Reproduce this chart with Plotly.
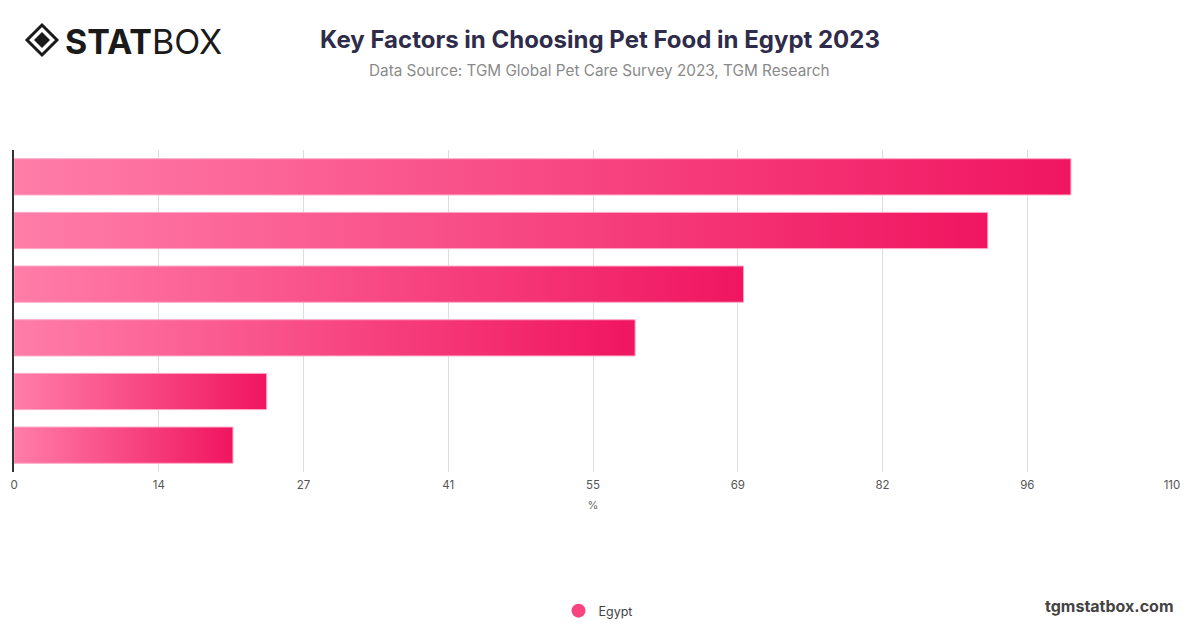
# Packages:
import plotly.graph_objects as go

# Data:
factors = ["Factor 1", "Factor 2", "Factor 3", "Factor 4", "Factor 5", "Factor 6"]
shares = [100.4, 92.5, 69.3, 59.0, 24.0, 20.8]
series_name = "Egypt"
tick_vals = [0, 13.75, 27.5, 41.25, 55, 68.75, 82.5, 96.25, 110]
tick_text = ["0", "14", "27", "41", "55", "69", "82", "96", "110"]

# Layout helpers (page pixels -> paper); the page body adds an 8px offset:
OFF = 8
W, H = 1200 - OFF, 628 - OFF
plot_l, plot_r, plot_t, plot_b = 14, 1172, 150, 472
L, T = plot_l - OFF, plot_t - OFF
R, B = W - (plot_r - OFF), H - (plot_b - OFF)
pw, ph = plot_r - plot_l, plot_b - plot_t
def px(x):
    return (x - plot_l) / pw
def py(y):
    return (plot_b - y) / ph

bar_w = 0.675
grad = [[0, "#FF7DA8"], [1, "#F01560"]]

fig = go.Figure()

# Bars as filled rectangles so each one can carry its own horizontal gradient:
for i, (name, v) in enumerate(zip(factors, shares)):
    y0, y1 = i - bar_w / 2, i + bar_w / 2
    fig.add_trace(go.Scatter(
        x = [0, v, v, 0, 0],
        y = [y0, y0, y1, y1, y0],
        mode = "lines",
        fill = "toself",
        fillgradient = dict(type = "horizontal", colorscale = grad),
        line = dict(color = "#FFA8C6", width = 1),
        hoverinfo = "skip",
        name = name,
        showlegend = False
    ))

# Legend entry:
fig.add_trace(go.Scatter(
    x = [None], y = [None],
    mode = "markers",
    marker = dict(size = 14, color = "#F8447F"),
    name = series_name
))

fig.update_layout(
    width = W, height = H,
    margin = dict(l = L, r = R, t = T, b = B, autoexpand = False),
    plot_bgcolor = "white",
    paper_bgcolor = "white",
    font = dict(family = "Inter", color = "#555555"),
    title = dict(
        text = "<b>Key Factors in Choosing Pet Food in Egypt 2023</b>",
        x = (600 - OFF) / W, xanchor = "center", xref = "container",
        y = 1 - (40 - OFF) / H, yanchor = "middle", yref = "container",
        font = dict(size = 24, color = "#2E2C4A", family = "Inter")
    ),
    xaxis = dict(
        range = [0, 110],
        tickvals = tick_vals,
        ticktext = tick_text,
        showgrid = True,
        gridcolor = "#DDDDDD",
        gridwidth = 1,
        zeroline = False,
        showline = False,
        ticks = "",
        ticklabelstandoff = 4,
        automargin = False,
        tickfont = dict(size = 11.5, color = "#555555"),
        title = dict(text = "%", font = dict(size = 11, color = "#666666"), standoff = 10)
    ),
    yaxis = dict(
        range = [len(factors) - 0.5, -0.5],
        showticklabels = False,
        showgrid = False,
        zeroline = False,
        showline = True,
        linecolor = "#333333",
        linewidth = 1.5,
        ticks = "",
        automargin = False
    ),
    legend = dict(
        orientation = "h",
        x = px(598), xanchor = "center",
        y = py(611), yanchor = "middle",
        font = dict(size = 12.5, color = "#444444")
    ),
    annotations = [
        dict(
            text = "Data Source: TGM Global Pet Care Survey 2023, TGM Research",
            xref = "paper", yref = "paper",
            x = px(600), y = py(71), xanchor = "center", yanchor = "middle",
            showarrow = False,
            font = dict(size = 15.3, color = "#8A8A8A")
        ),
        dict(
            text = "<b>STAT</b>BOX",
            xref = "paper", yref = "paper",
            x = px(63), y = py(41), xanchor = "left", yanchor = "middle",
            showarrow = False,
            font = dict(size = 34, color = "#1A1A1A", family = "Inter")
        ),
        dict(
            text = "<b>tgmstatbox.com</b>",
            xref = "paper", yref = "paper",
            x = px(1176), y = py(606), xanchor = "right", yanchor = "middle",
            showarrow = False,
            font = dict(size = 16, color = "#444444")
        )
    ],
    shapes = [
        # Logo diamond (outer ring + inner solid):
        dict(
            type = "path", xref = "paper", yref = "paper",
            path = "M {} {} L {} {} L {} {} L {} {} Z".format(
                px(27), py(40), px(42), py(25), px(57), py(40), px(42), py(55)),
            line = dict(color = "#1A1A1A", width = 3),
            fillcolor = "white"
        ),
        dict(
            type = "path", xref = "paper", yref = "paper",
            path = "M {} {} L {} {} L {} {} L {} {} Z".format(
                px(34), py(40), px(42), py(32), px(50), py(40), px(42), py(48)),
            line = dict(color = "#1A1A1A", width = 0),
            fillcolor = "#1A1A1A"
        )
    ]
)

fig.write_html("out.html")
